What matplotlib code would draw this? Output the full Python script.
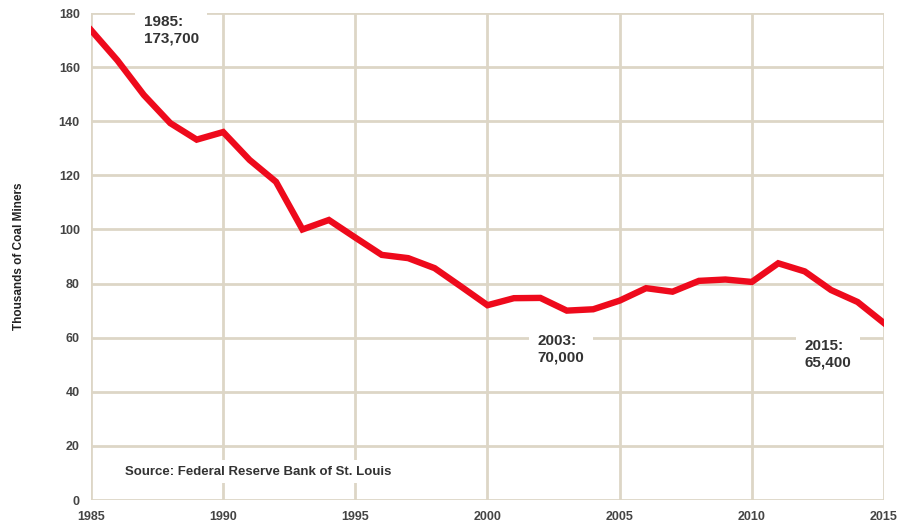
import matplotlib.pyplot as plt
import numpy as np

years = np.arange(1985, 2016)
miners = [173.7, 162.5, 149.7, 139.3, 133.2, 136.0, 125.7, 117.6, 100.0, 103.5,
          97.0, 90.6, 89.4, 85.7, 78.9, 72.0, 74.6, 74.7, 70.0, 70.5,
          73.7, 78.3, 77.0, 81.0, 81.5, 80.6, 87.5, 84.5, 77.6, 73.2, 65.4]
y_ticks = [0, 20, 40, 60, 80, 100, 120, 140, 160, 180]
x_ticks = [1985, 1990, 1995, 2000, 2005, 2010, 2015]
notes = ["1985:\n173,700", "2003:\n70,000", "2015:\n65,400"]
# where each note sits (data coords)
note_pos = [(1987.0, 173.5), (2001.9, 55.8), (2012.0, 54.0)]

plt.rcParams['font.family'] = ['Liberation Sans', 'DejaVu Sans']
grid_col = '#ddd6c6'
txt_col = '#333333'

fig = plt.figure(figsize=(8.99, 5.25), dpi=100)
ax = fig.add_axes([0.1012, 0.0476, 0.8821, 0.9276])

ax.plot(years, miners, color='#ee0a1c', linewidth=4.6, solid_joinstyle='miter', zorder=3)

ax.set_xlim(1985, 2015)
ax.set_ylim(0, 180)
ax.set_xticks(x_ticks)
ax.set_yticks(y_ticks)
ax.grid(True, color=grid_col, linewidth=2.0, zorder=0)
ax.set_axisbelow(True)
for s in ax.spines.values():
    s.set_visible(False)
ax.tick_params(length=0, labelsize=9, colors='#444444', pad=8)
for lab in ax.get_xticklabels() + ax.get_yticklabels():
    lab.set_fontweight('bold')

ax.set_ylabel('Thousands of Coal Miners', fontsize=8.5, fontweight='bold',
              color='#222222', labelpad=24)

for txt, (px, py) in zip(notes, note_pos):
    ax.text(px, py, txt, fontsize=11, fontweight='bold', color=txt_col,
            ha='left', va='center', linespacing=1.25, zorder=4,
            bbox=dict(facecolor='white', edgecolor='none', pad=6))

ax.text(1986.3, 10.5, 'Source: Federal Reserve Bank of St. Louis', fontsize=9.5,
        fontweight='bold', color=txt_col, ha='left', va='center', zorder=4,
        bbox=dict(facecolor='white', edgecolor='none', pad=4))

plt.savefig('out.png', dpi=100)
